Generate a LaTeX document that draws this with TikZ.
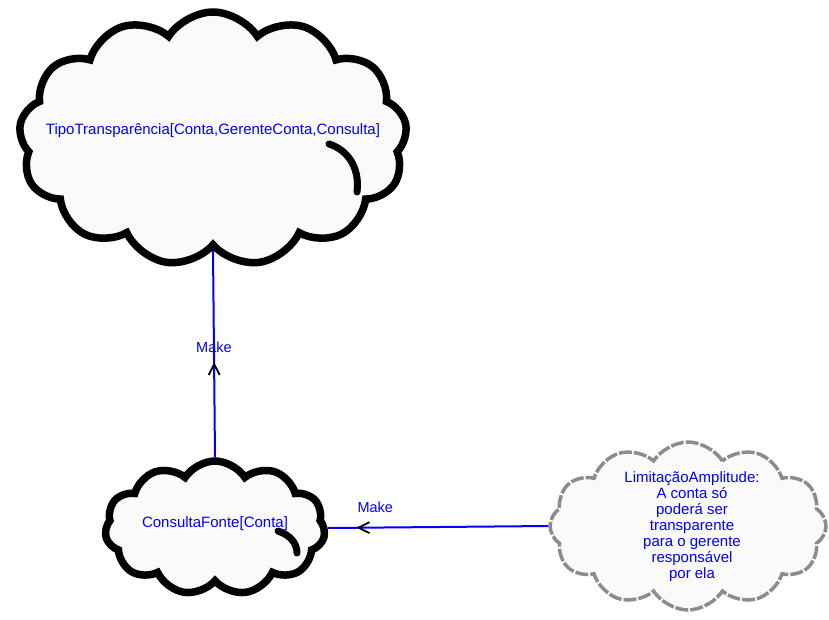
\documentclass[tikz,border=0pt]{standalone}
\usepackage{fontspec}
\setmainfont{Liberation Sans}
\usetikzlibrary{shapes.symbols,arrows.meta,decorations.markings,backgrounds}
\begin{document}
\begin{tikzpicture}[x=1pt,y=-1pt,
  goal/.style={cloud, cloud puffs=#1, cloud ignores aspect, cloud puff arc=115,
    fill=black!2, draw=black, line width=7.5pt, inner sep=0pt},
  softgoal/.style={cloud, cloud puffs=#1, cloud ignores aspect, cloud puff arc=115,
    fill=black!2, draw=black!45, line width=3.5pt, dash pattern=on 13pt off 2pt, inner sep=0pt},
  curl/.style={draw=black, line width=7pt, line cap=round},
  lbl/.style={text=blue, font=\fontsize{15}{16}\selectfont, align=center},
  tag/.style={text=blue, font=\fontsize{14.5}{16}\selectfont},
  link/.style={draw=blue, line width=2pt},
  make/.style={postaction={decorate, decoration={markings,
    mark=at position #1 with {\arrow[black, line width=1.8pt]{Straight Barb[length=11pt, width=11pt]}}}}},
]
\useasboundingbox (0,0) rectangle (829,619);

% goals
\node[goal=13, minimum width=388pt, minimum height=254pt] (big) at (213,139) {};
\draw[curl] (329,144) .. controls (348,150) and (360,168) .. (357,192);
\node[lbl] (bigtxt) at (213,131) {TipoTransparência[Conta,GerenteConta,Consulta]};

\node[goal=11, minimum width=220pt, minimum height=134pt] (small) at (215,528) {};
\draw[curl] (278,531) .. controls (290,535) and (297,543) .. (297,553);
\node[lbl] (smalltxt) at (215,524) {ConsultaFonte[Conta]};

% softgoal
\node[softgoal=12, minimum width=276pt, minimum height=168pt] (limit) at (688,526) {};
\node[lbl] (limittxt) at (692,527) {LimitaçãoAmplitude:\\A conta só\\poderá ser\\transparente\\para o gerente\\responsável\\por ela};

% contributions, kept behind the clouds so they stop at the outlines
\begin{scope}[on background layer]
\draw[link, make=0.46] (small.north) -- (big.south)
  node[tag, pos=0.53] (m1) {Make};
\draw[link, make=0.87] (limit.west) -- (small.east)
  node[tag, pos=0.785, yshift=20pt] (m2) {Make};
\end{scope}
\end{tikzpicture}
\end{document}
